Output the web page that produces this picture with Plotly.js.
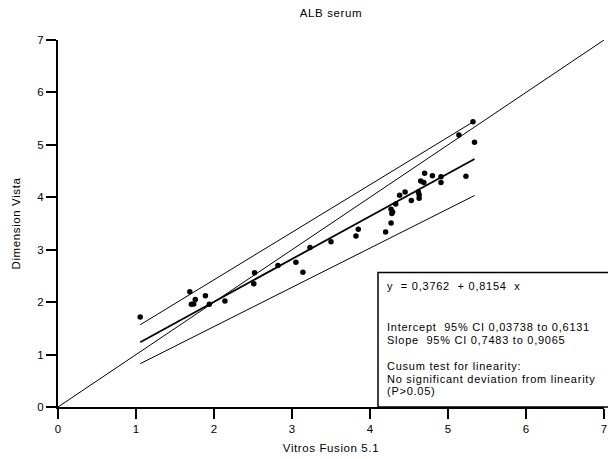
<!DOCTYPE html>
<html>
<head>
<meta charset="utf-8">
<script src="https://cdn.plot.ly/plotly-3.0.1.min.js"></script>
<style>
html,body{margin:0;padding:0;background:#fff;}
#chart{width:608px;height:459px;}
#chart .annotation-text{letter-spacing:0.75px;}
#chart .gtitle, #chart .xtitle, #chart .ytitle{letter-spacing:0.6px;}
</style>
</head>
<body>
<div id="chart"></div>
<script>
// Measurements: Vitros Fusion 5.1 (x) vs Dimension Vista (y)
const vitros = [1.054, 1.69, 1.71, 1.74, 1.76, 1.89, 1.94, 2.14, 2.52, 2.51, 2.82, 3.05, 3.14, 3.23, 3.50,
  3.82, 3.85, 4.20, 4.27, 4.28, 4.29, 4.27, 4.33, 4.38, 4.45, 4.53, 4.62, 4.63, 4.63, 4.65, 4.69, 4.70,
  4.80, 4.91, 4.91, 5.23, 5.14, 5.32, 5.34];
const vista = [1.717, 2.197, 1.96, 1.965, 2.05, 2.12, 1.96, 2.02, 2.56, 2.35, 2.70, 2.76, 2.57, 3.04, 3.15,
  3.26, 3.39, 3.34, 3.51, 3.69, 3.72, 3.77, 3.87, 4.04, 4.10, 3.94, 4.10, 4.05, 3.98, 4.31, 4.28, 4.46,
  4.41, 4.39, 4.28, 4.40, 5.19, 5.44, 5.05];

// Regression line and its 95% CI lines: [fit, lower, upper]
const lineIntercepts = [0.3762, 0.03738, 0.6131];
const lineSlopes = [0.8154, 0.7483, 0.9065];
const lineWidths = [1.8, 1, 1];

// Identity line
const identityX = [0, 7];
const identityY = [0, 7];

const axisTicks = [0, 1, 2, 3, 4, 5, 6, 7];

const boxLines = [
  'y  = 0,3762  + 0,8154  x',
  'Intercept  95% CI 0,03738 to 0,6131',
  'Slope  95% CI 0,7483 to 0,9065',
  'Cusum test for linearity:',
  'No significant deviation from linearity',
  '(P>0.05)'
];
const boxLineY = [285.5, 327, 339.5, 366, 378.5, 391]; // pixel rows of the text lines

const FONT = 'Liberation Sans, Arial, Helvetica, sans-serif';
const L = 58, R = 4, T = 40, B = 52, W = 608, H = 459;
const PW = W - L - R, PH = H - T - B;
const py2paper = p => (H - B - p) / PH;
const px2paper = p => (p - L) / PW;

const xMin = Math.min(...vitros), xMax = Math.max(...vitros);

const traces = [];
traces.push({x: identityX, y: identityY, mode: 'lines', line: {color: '#000', width: 1}, hoverinfo: 'skip'});
lineIntercepts.forEach((a, i) => {
  traces.push({
    x: [xMin, xMax],
    y: [a + lineSlopes[i] * xMin, a + lineSlopes[i] * xMax],
    mode: 'lines', line: {color: '#000', width: lineWidths[i]}, hoverinfo: 'skip'
  });
});
traces.push({x: vitros, y: vista, mode: 'markers', marker: {color: '#000', size: 5.5}});

const annotations = boxLines.map((t, i) => ({
  text: t, xref: 'paper', yref: 'paper', x: px2paper(385), y: py2paper(boxLineY[i]),
  xanchor: 'left', yanchor: 'middle', showarrow: false, align: 'left',
  font: {family: FONT, size: 11, color: '#000'}
}));

const layout = {
  width: W, height: H,
  margin: {l: L, r: R, t: T, b: B, pad: 0},
  paper_bgcolor: '#fff', plot_bgcolor: '#fff',
  showlegend: false,
  font: {family: FONT, size: 11, color: '#000'},
  title: {text: 'ALB serum', font: {family: FONT, size: 11.5, color: '#000'},
    xref: 'paper', x: 0.5, xanchor: 'center', yref: 'container', y: 1 - 13 / H, yanchor: 'middle'},
  xaxis: {
    range: [0, 7], tickvals: axisTicks, ticktext: axisTicks.map(String),
    showgrid: false, zeroline: false, showline: true, linecolor: '#000', linewidth: 2,
    ticks: 'outside', ticklen: 10, tickwidth: 2, tickcolor: '#000',
    tickfont: {family: FONT, size: 11.5, color: '#000'},
    title: {text: 'Vitros Fusion 5.1', font: {family: FONT, size: 11.5, color: '#000'}, standoff: 10},
    fixedrange: true
  },
  yaxis: {
    range: [0, 7], tickvals: axisTicks, ticktext: axisTicks.map(String),
    showgrid: false, zeroline: false, showline: true, linecolor: '#000', linewidth: 2,
    ticks: 'outside', ticklen: 10, tickwidth: 2, tickcolor: '#000',
    tickfont: {family: FONT, size: 11.5, color: '#000'},
    title: {text: 'Dimension Vista', font: {family: FONT, size: 11.5, color: '#000'}, standoff: 14},
    fixedrange: true
  },
  shapes: [{
    type: 'rect', xref: 'paper', yref: 'paper',
    x0: px2paper(378), x1: px2paper(609), y0: 0, y1: py2paper(272.5),
    line: {color: '#000', width: 1.5}, fillcolor: 'rgba(255,255,255,1)', layer: 'above'
  }],
  annotations: annotations
};

Plotly.newPlot('chart', traces, layout, {staticPlot: true, displayModeBar: false});
</script>
</body>
</html>
